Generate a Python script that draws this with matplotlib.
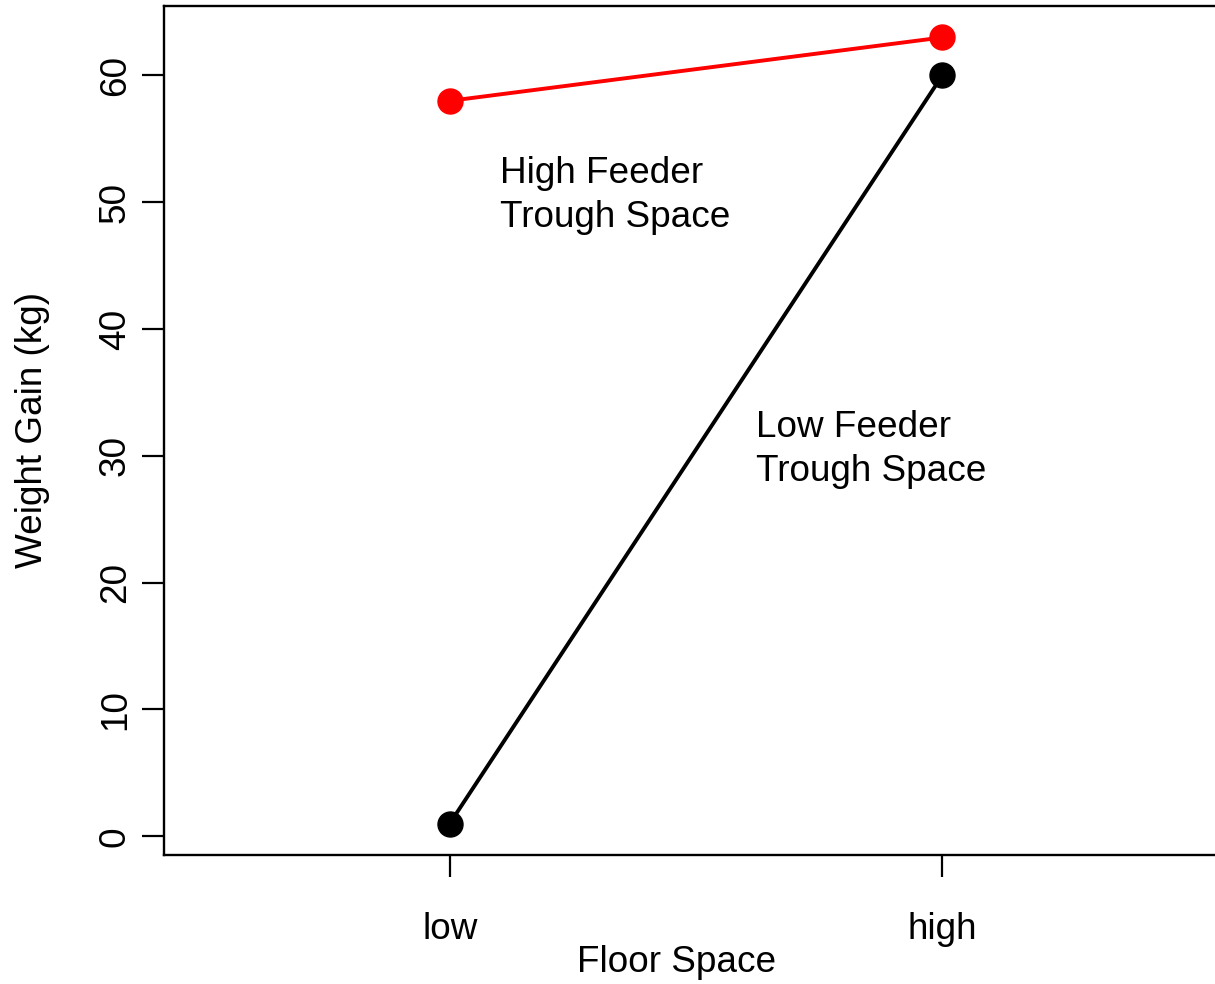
import matplotlib
matplotlib.use("Agg")
import matplotlib.pyplot as plt
import matplotlib.transforms as mtransforms

plt.rcParams['font.family'] = ['Liberation Sans', 'DejaVu Sans']

categories = ["low", "high"]
low_trough = [1, 60]
high_trough = [58, 63]
labels = ["High Feeder\nTrough Space", "Low Feeder\nTrough Space"]

W, H = 1215, 984
fig = plt.figure(figsize=(W / 100, H / 100), dpi=100)
left, right, top, bottom = 164, 1228, 6, 855
ax = fig.add_axes([left / W, 1 - bottom / H, (right - left) / W, (bottom - top) / H])

x = [1, 2]
ax.plot(x, high_trough, color='#ff0000', lw=2.8, marker='o', ms=18, mec='#ff0000', mfc='#ff0000', clip_on=False, zorder=3)
ax.plot(x, low_trough, color='black', lw=2.8, marker='o', ms=18, clip_on=False, zorder=3)

fs = 26.6
ax.text(1.103, 48.03, labels[0], ha='left', va='baseline', fontsize=fs, linespacing=1.33)
ax.text(1.621, 28.0, labels[1], ha='left', va='baseline', fontsize=fs, linespacing=1.33)

ax.set_xlim(0.42, 2.58)
ax.set_ylim(-1.48, 65.48)
ax.set_xticks(x)
ax.set_xticklabels(categories, fontsize=fs)
ax.set_yticks([0, 10, 20, 30, 40, 50, 60])
ax.set_yticklabels([str(v) for v in [0, 10, 20, 30, 40, 50, 60]], fontsize=fs, rotation=90, va='center')

shift = mtransforms.ScaledTranslation(-5 / 100, 0, fig.dpi_scale_trans)
for lab in ax.get_xticklabels():
    lab.set_transform(lab.get_transform() + shift)

for s in ax.spines.values():
    s.set_linewidth(1.7)
ax.tick_params(axis='both', direction='out', length=16, width=1.6)
ax.tick_params(axis='x', pad=25)
ax.tick_params(axis='y', pad=6.5)

ax.set_xlabel("Floor Space", fontsize=fs)
ax.set_ylabel("Weight Gain (kg)", fontsize=fs)
ax.xaxis.set_label_coords((677 - left) / (right - left), -(963 - bottom) / (bottom - top))
ax.xaxis.label.set_va('center')
ax.yaxis.set_label_coords(-(164 - 33) / (right - left), 0.5)
ax.yaxis.label.set_va('center')

fig.savefig("out.png", dpi=100)
